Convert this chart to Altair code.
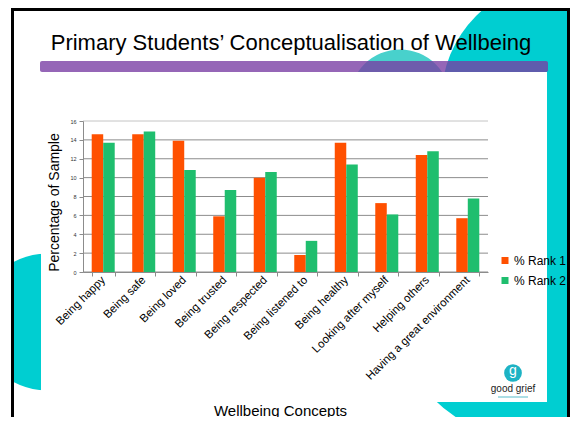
import altair as alt
import pandas as pd

# ---- data ----
concepts = ["Being happy", "Being safe", "Being loved", "Being trusted", "Being respected",
            "Being listened to", "Being healthy", "Looking after myself", "Helping others",
            "Having a great environment"]
rank1 = [14.6, 14.6, 13.9, 5.9, 10.0, 1.8, 13.7, 7.3, 12.4, 5.7]
rank2 = [13.7, 14.9, 10.8, 8.7, 10.6, 3.3, 11.4, 6.1, 12.8, 7.8]
series = ["% Rank 1", "% Rank 2"]
y_ticks = [0, 2, 4, 6, 8, 10, 12, 14, 16]

title_text = "Primary Students\u2019 Conceptualisation of Wellbeing"
x_title = "Wellbeing Concepts"
y_title = "Percentage of Sample"
logo_letter = "g"
logo_text = "good grief"

rows = []
for c, a, b in zip(concepts, rank1, rank2):
    rows.append({"concept": c, "series": series[0], "pct": a})
    rows.append({"concept": c, "series": series[1], "pct": b})
bars_df = pd.DataFrame(rows)
grid_df = pd.DataFrame({"pct": y_ticks})
one = pd.DataFrame({"k": [0]})

FONT = "Liberation Sans"
TEAL = "darkturquoise"

y_scale = alt.Scale(domain=[0, 16])
y_axis = alt.Axis(values=y_ticks, grid=False, title=y_title, titleFontSize=14, titleFont=FONT,
                  titleFontWeight="normal", titleColor="black", titleX=-24.7, titleY=81,
                  titleAngle=270, titleBaseline="alphabetic", titleAlign="center",
                  labelFontSize=5.5, labelFont=FONT, labelColor="#333333", tickSize=4,
                  labelPadding=3, domainColor="#8c8c8c", tickColor="#8c8c8c", zindex=1)
x_axis = alt.Axis(title=x_title, labelAngle=315, labelAlign="right", labelBaseline="middle",
                  labelFontSize=11.5, labelFont=FONT, labelColor="black", labelPadding=2,
                  labelLimit=0, tickBand="extent", tickSize=4, domainColor="#8c8c8c",
                  tickColor="#8c8c8c", titleFontSize=15, titleFont=FONT, titleFontWeight="normal",
                  titleColor="black", titleX=197, titleY=131, titleBaseline="top",
                  titleAlign="center", grid=False, zindex=1)


def deco_rect(x, x2, y, y2, color, opacity=1.0, radius=0):
    return alt.Chart(one).mark_rect(color=color, opacity=opacity, cornerRadius=radius).encode(
        x=alt.value(x), x2=alt.value(x2), y=alt.value(y), y2=alt.value(y2))


def deco_circle(x, y, size, color):
    return alt.Chart(one).mark_circle(color=color, opacity=1).encode(
        x=alt.value(x), y=alt.value(y), size=alt.value(size))


band = deco_rect(464, 487, -113, 296, TEAL)
light_circle = deco_circle(317, -21, 10207, "mediumturquoise")
big_circle = deco_circle(477, -21, 56410, TEAL)
bottom_circle = deco_circle(457, 169, 92940, TEAL)
left_circle = deco_circle(-37, 201, 18627, TEAL)
panel = deco_rect(-42, 464, -49, 281, "white")
purple = deco_rect(-43, 465, -60, -49, "#783DA4", opacity=0.79, radius=2)
left_mask = deco_rect(-75, -72, -113, 296, "white")
border = alt.Chart(one).mark_rect(fillOpacity=0, stroke="black", strokeWidth=3).encode(
    x=alt.value(-70.5), x2=alt.value(485.5), y=alt.value(-111.5), y2=alt.value(339))

title = alt.Chart(one).mark_text(text=title_text, font=FONT, fontSize=22, color="black",
                                 align="center", baseline="alphabetic").encode(
    x=alt.value(208), y=alt.value(-71))

grid = alt.Chart(grid_df).mark_rule(strokeWidth=1).encode(
    y=alt.Y("pct:Q", scale=y_scale, axis=y_axis),
    color=alt.condition(alt.datum.pct == 16, alt.value("#c4c4c4"), alt.value("#8c8c8c")))

bars = alt.Chart(bars_df).mark_bar().encode(
    x=alt.X("concept:N", sort=concepts, axis=x_axis,
            scale=alt.Scale(paddingInner=0.432, paddingOuter=0.215)),
    xOffset=alt.XOffset("series:N", sort=series),
    y=alt.Y("pct:Q", scale=y_scale, axis=y_axis),
    color=alt.Color("series:N", sort=series,
                    scale=alt.Scale(domain=series, range=["#FF5000", "#1FBE6E"]),
                    legend=alt.Legend(orient="none", legendX=416, legendY=133.5, title=None,
                                      symbolType="square", symbolSize=49, symbolStrokeWidth=0,
                                      labelFontSize=12, labelFont=FONT, labelColor="black",
                                      labelOffset=3, rowPadding=8, padding=0)))

logo_circle = deco_circle(430, 252, 314, "#1DB3C4")
logo_g = alt.Chart(one).mark_text(text=logo_letter, font=FONT, fontSize=14, color="white",
                                  align="center", baseline="middle").encode(
    x=alt.value(430), y=alt.value(250))
logo_name = alt.Chart(one).mark_text(text=logo_text, font=FONT, fontSize=10, color="#222222",
                                     align="center", baseline="alphabetic").encode(
    x=alt.value(430), y=alt.value(271))
logo_line = alt.Chart(one).mark_rule(color="#8fd3dc", strokeWidth=1.5).encode(
    x=alt.value(415), x2=alt.value(445), y=alt.value(276))

chart = alt.layer(
    band, light_circle, big_circle, bottom_circle, left_circle, panel, purple,
    left_mask, border, title, grid, bars, logo_circle, logo_g, logo_name, logo_line
).properties(
    width=405, height=151,
    padding={"left": 75, "top": 113, "right": 82, "bottom": 145},
    autosize=alt.AutoSizeParams(type="none"),
    background="white",
).configure_view(stroke=None)

chart.save("out.html", embed_options={"renderer": "svg", "actions": False})
